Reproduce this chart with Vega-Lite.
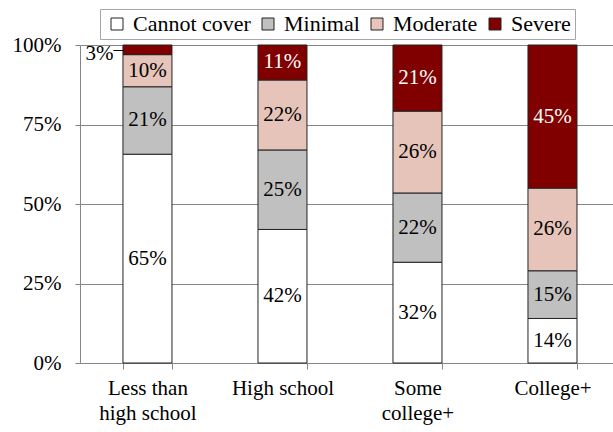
{
  "$schema": "https://vega.github.io/schema/vega-lite/v6.json",
  "width": 533,
  "height": 318,
  "autosize": {"type": "none"},
  "padding": {"left": 80, "top": 45, "right": 0, "bottom": 69},
  "background": "white",
  "config": {
    "font": "Liberation Serif",
    "view": {"stroke": null},
    "legend": {"labelFont": "Liberation Serif", "labelFontSize": 22, "labelColor": "black"},
    "axis": {"labelFont": "Liberation Serif", "labelFontSize": 21, "labelColor": "black", "domainColor": "#868686", "tickColor": "#868686", "gridColor": "#868686", "title": null}
  },
  "data": {
    "values": [
      {"edu": "Less than high school", "status": "Cannot cover", "ord": 1, "value": 65},
      {"edu": "Less than high school", "status": "Minimal", "ord": 2, "value": 21},
      {"edu": "Less than high school", "status": "Moderate", "ord": 3, "value": 10},
      {"edu": "Less than high school", "status": "Severe", "ord": 4, "value": 3},
      {"edu": "High school", "status": "Cannot cover", "ord": 1, "value": 42},
      {"edu": "High school", "status": "Minimal", "ord": 2, "value": 25},
      {"edu": "High school", "status": "Moderate", "ord": 3, "value": 22},
      {"edu": "High school", "status": "Severe", "ord": 4, "value": 11},
      {"edu": "Some college+", "status": "Cannot cover", "ord": 1, "value": 32},
      {"edu": "Some college+", "status": "Minimal", "ord": 2, "value": 22},
      {"edu": "Some college+", "status": "Moderate", "ord": 3, "value": 26},
      {"edu": "Some college+", "status": "Severe", "ord": 4, "value": 21},
      {"edu": "College+", "status": "Cannot cover", "ord": 1, "value": 14},
      {"edu": "College+", "status": "Minimal", "ord": 2, "value": 15},
      {"edu": "College+", "status": "Moderate", "ord": 3, "value": 26},
      {"edu": "College+", "status": "Severe", "ord": 4, "value": 45}
    ]
  },
  "transform": [
    {"stack": "value", "groupby": ["edu"], "sort": [{"field": "ord", "order": "ascending"}], "offset": "normalize", "as": ["v0", "v1"]},
    {"calculate": "(datum.v0 + datum.v1) / 2", "as": "mid"},
    {"calculate": "datum.value + '%'", "as": "lab"}
  ],
  "encoding": {
    "x": {
      "field": "edu", "type": "nominal", "sort": null,
      "scale": {"paddingInner": 0.637, "paddingOuter": 0.2925, "align": 0.544},
      "axis": {
        "labelAngle": 0, "tickBand": "extent", "tickSize": 6, "labelPadding": 8,
        "labelLineHeight": 25, "labelBaseline": "top",
        "labelExpr": "datum.value == 'Less than high school' ? ['Less than', 'high school'] : datum.value == 'Some college+' ? ['Some', 'college+'] : datum.value"
      }
    }
  },
  "layer": [
    {
      "mark": {"type": "bar", "stroke": "#222", "strokeWidth": 1},
      "encoding": {
        "y": {"field": "v0", "type": "quantitative", "scale": {"domain": [0, 1], "nice": false},
          "axis": {"format": ".0%", "values": [0, 0.25, 0.5, 0.75, 1], "grid": true, "tickSize": 5, "labelPadding": 14}},
        "y2": {"field": "v1"},
        "color": {
          "field": "status", "type": "nominal",
          "scale": {"domain": ["Cannot cover", "Minimal", "Moderate", "Severe"], "range": ["#ffffff", "#c0c0c0", "#e6c4b9", "#800000"]},
          "legend": {
            "title": null, "orient": "none", "direction": "horizontal", "legendX": 20, "legendY": -36,
            "symbolType": "square", "symbolSize": 144, "symbolStrokeColor": "#222", "symbolStrokeWidth": 1,
            "symbolOpacity": 1,
            "labelOffset": 5,
            "columnPadding": 4, "padding": 4, "strokeColor": "#a6a6a6", "fillColor": "white", "symbolOffset": 2
          }
        },
        "order": {"field": "ord"}
      }
    },
    {
      "transform": [{"filter": "datum.value >= 5"}],
      "mark": {"type": "text", "fontSize": 21, "baseline": "middle", "font": "Liberation Serif"},
      "encoding": {
        "y": {"field": "mid", "type": "quantitative"},
        "text": {"field": "lab"},
        "color": {"condition": {"test": "datum.status === 'Severe'", "value": "white"}, "value": "black"}
      }
    },
    {
      "transform": [{"filter": "datum.value < 5"}],
      "mark": {"type": "text", "fontSize": 21, "baseline": "middle", "align": "right", "dx": -34, "dy": 4, "font": "Liberation Serif", "color": "black"},
      "encoding": {
        "y": {"field": "mid", "type": "quantitative"},
        "text": {"field": "lab"}
      }
    },
    {
      "transform": [{"filter": "datum.value < 5"}],
      "mark": {"type": "text", "fontSize": 20, "baseline": "middle", "align": "center", "dx": -29, "dy": 0, "font": "Liberation Serif", "color": "black", "text": "–"},
      "encoding": {
        "y": {"field": "mid", "type": "quantitative"}
      }
    }
  ]
}
